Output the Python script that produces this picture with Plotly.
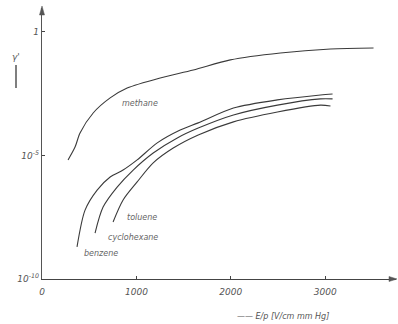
import plotly.graph_objects as go

# ---- data ----
methane_x = [276, 350, 403, 542, 722, 902, 1252, 1603, 1995, 2525, 3056, 3512]
methane_logy = [-5.18, -4.66, -4.09, -3.28, -2.67, -2.27, -1.86, -1.54, -1.13, -0.85, -0.69, -0.65]

benzene_x = [371, 456, 584, 722, 859, 1008, 1221, 1464, 1655, 2028, 2494, 2950, 3078]
benzene_logy = [-8.70, -7.21, -6.40, -5.87, -5.59, -5.18, -4.49, -3.97, -3.68, -3.08, -2.75, -2.55, -2.51]

cyclohexane_x = [562, 647, 796, 966, 1178, 1433, 1655, 2028, 2494, 2950, 3078]
cyclohexane_logy = [-8.14, -7.09, -6.28, -5.59, -4.90, -4.29, -3.89, -3.36, -2.96, -2.71, -2.71]

toluene_x = [753, 859, 1008, 1178, 1390, 1655, 2028, 2494, 2950, 3056]
toluene_logy = [-7.69, -6.80, -6.07, -5.30, -4.70, -4.17, -3.64, -3.24, -2.96, -3.00]

ytick_vals = [1, 1e-5, 1e-10]
ytick_text = ["1", "10<sup>-5</sup>", "10<sup>-10</sup>"]
xtick_vals = [0, 1000, 2000, 3000]
xtick_text = ["0", "1000", "2000", "3000"]

W, H = 398, 324
L, R, T, B = 42, 2, 8, 45
PW, PH = W - L - R, H - T - B


def px(x):
    return (x - L) / PW


def py(y):
    return (H - B - y) / PH


ink = "#3a3a3a"
fig = go.Figure()
for xs, ls in [(methane_x, methane_logy), (benzene_x, benzene_logy),
               (cyclohexane_x, cyclohexane_logy), (toluene_x, toluene_logy)]:
    fig.add_trace(go.Scatter(x=xs, y=[10 ** v for v in ls], mode="lines",
                             line=dict(color=ink, width=1.1, shape="spline", smoothing=0.8),
                             showlegend=False, hoverinfo="skip"))

lab_font = dict(family="DejaVu Sans", size=8, color="#666", style="italic")
for text, x, y in [("methane", 140, 103), ("toluene", 142, 218),
                   ("cyclohexane", 133, 237), ("benzene", 101, 253)]:
    fig.add_annotation(xref="paper", yref="paper", x=px(x), y=py(y), text=text,
                       showarrow=False, font=lab_font, xanchor="center", yanchor="middle")

# axis titles
fig.add_annotation(xref="paper", yref="paper", x=px(16), y=py(57), text="γ'",
                   showarrow=False, xanchor="center", yanchor="middle",
                   font=dict(family="DejaVu Sans", size=9, color="#555", style="italic"))
fig.add_shape(type="line", xref="paper", yref="paper", x0=px(16), x1=px(16), y0=py(65), y1=py(88),
              line=dict(color="#555", width=1.5))
fig.add_annotation(xref="paper", yref="paper", x=px(283), y=py(316),
                   text="—— E/p [V/cm mm Hg]", showarrow=False, xanchor="center", yanchor="middle",
                   font=dict(family="DejaVu Sans", size=8, color="#555", style="italic"))


# axis arrowheads as small filled triangles
def tri(points):
    p = "M " + " L ".join(f"{px(a):.4f},{py(b):.4f}" for a, b in points) + " Z"
    fig.add_shape(type="path", xref="paper", yref="paper", path=p,
                  fillcolor="#555", line=dict(color="#555", width=0.5))


tri([(42, 6), (39.5, 15), (44.5, 15)])
tri([(397, 279), (389, 276.5), (389, 281.5)])

tick_font = dict(family="DejaVu Sans", size=9, color="#555", style="italic")
fig.update_xaxes(range=[0, 3750], showgrid=False, zeroline=False, showline=True,
                 linecolor="#444", linewidth=1.3, tickvals=xtick_vals, ticktext=xtick_text,
                 ticks="inside", ticklen=3, tickcolor="#444", tickfont=tick_font,
                 ticklabelstandoff=4)
fig.update_yaxes(type="log", range=[-10, 0.97], showgrid=False, zeroline=False, showline=True,
                 linecolor="#555", linewidth=1.3, tickvals=ytick_vals, ticktext=ytick_text,
                 ticks="inside", ticklen=3, tickcolor="#444", tickfont=tick_font)
fig.update_layout(width=W, height=H, margin=dict(l=L, r=R, t=T, b=B, autoexpand=False),
                  plot_bgcolor="white", paper_bgcolor="white")
fig.write_html("out.html", config={"displayModeBar": False},
               post_script="document.body.style.margin='0';document.body.style.overflow='hidden';")
